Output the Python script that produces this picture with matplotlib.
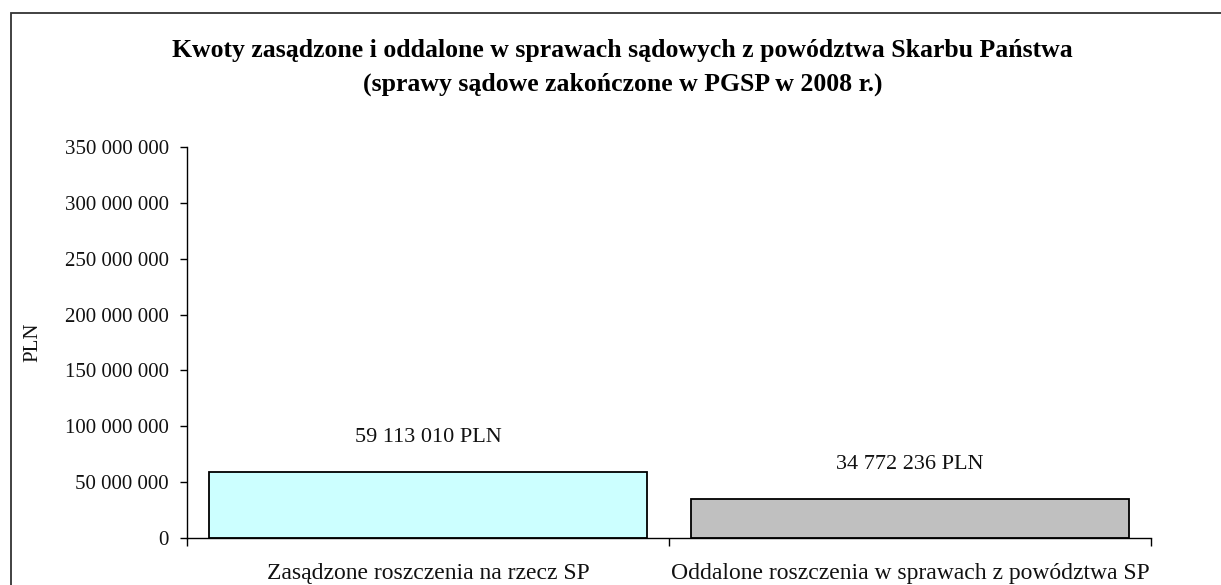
import matplotlib.pyplot as plt
import matplotlib.ticker as ticker
from matplotlib.patches import Rectangle

# dane
kategorie = ['Zasądzone roszczenia na rzecz SP', 'Oddalone roszczenia w sprawach z powództwa SP']
kwoty = [59113010, 34772236]
etykiety = ['59 113 010 PLN', '34 772 236 PLN']
kolory = ['#CCFFFF', '#C0C0C0']

plt.rcParams['font.family'] = ['Liberation Serif', 'DejaVu Serif']

fig = plt.figure(figsize=(12.21, 5.85), dpi=100)
ax = fig.add_axes([187 / 1221, 1 - 538 / 585, 964 / 1221, 391 / 585])

# ramka wykresu (ucieta z prawej i od dolu)
fig.patches.append(Rectangle((11 / 1221, -0.1), 1.2, 1 - 13 / 585 + 0.1,
                             transform=fig.transFigure, fill=False,
                             edgecolor='#333333', linewidth=1.3))

x = list(range(len(kwoty)))
ax.bar(x, kwoty, width=0.909, color=kolory, edgecolor='black', linewidth=1.3, zorder=2)

for i in x:
    ax.annotate(etykiety[i], (i, kwoty[i]), xytext=(0, 25), textcoords='offset points',
                ha='center', va='center', fontsize=16, color='#111111')

ax.set_xlim(-0.5, 1.5)
ax.set_ylim(0, 350000000)
ax.yaxis.set_major_locator(ticker.MultipleLocator(50000000))
ax.yaxis.set_major_formatter(ticker.FuncFormatter(lambda v, p: '{:,}'.format(int(v)).replace(',', ' ')))

ax.set_xticks([-0.5, 0.5, 1.5])
ax.set_xticklabels([])
ax.set_xticks(x, minor=True)
ax.set_xticklabels(kategorie, minor=True, fontsize=17, color='#111111')
ax.tick_params(axis='x', which='minor', length=0, pad=18)
ax.tick_params(axis='x', which='major', length=5.5, direction='out', width=1)
ax.tick_params(axis='y', length=5, width=1, labelsize=15, pad=8, labelcolor='#111111')

for s in ['top', 'right']:
    ax.spines[s].set_visible(False)
ax.spines['left'].set_linewidth(1)
ax.spines['bottom'].set_linewidth(1)

ax.set_ylabel('PLN', fontsize=15, color='#111111')
ax.yaxis.set_label_coords(-0.150, 0.5)

fig.text(0.51, 1 - 50 / 585, 'Kwoty zasądzone i oddalone w sprawach sądowych z powództwa Skarbu Państwa',
         ha='center', va='center', fontsize=18.5, fontweight='bold')
fig.text(0.51, 1 - 84 / 585, '(sprawy sądowe zakończone w PGSP w 2008 r.)',
         ha='center', va='center', fontsize=18.5, fontweight='bold')

fig.savefig('out.png', dpi=100)
